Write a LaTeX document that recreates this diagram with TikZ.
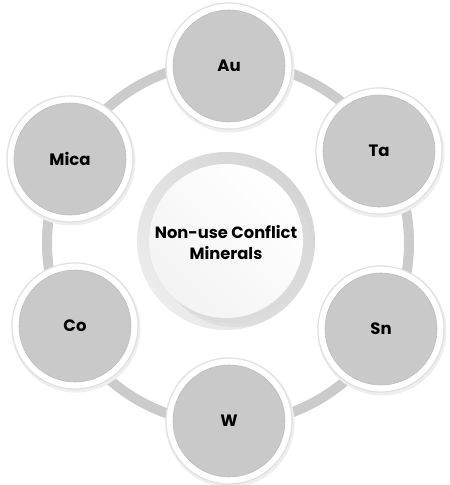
\documentclass[tikz,border=0pt]{standalone}
\usepackage{fontspec}
\setmainfont{Poppins}
\definecolor{ringgray}{HTML}{CBCBCB}
\definecolor{discgray}{HTML}{C9C9C9}
\definecolor{discedge}{HTML}{BDBDBD}
\definecolor{rimgray}{HTML}{E0E0E0}
\definecolor{shadowgray}{HTML}{EEEEEE}
\definecolor{ringdark}{HTML}{D4D4D4}
\definecolor{ringlight}{HTML}{ECECEC}
\definecolor{centershadow}{HTML}{DADADA}
\definecolor{whiteshade}{HTML}{F3F3F3}
\tikzset{
  sat/.style={circle, minimum size=112pt, inner sep=0pt, fill=discgray, draw=discedge, line width=0.6pt,
    font=\bfseries\fontsize{16.5}{19}\selectfont, text=black},
  satrim/.style={fill=white, draw=rimgray, line width=1.2pt},
  satshadow/.style={fill=shadowgray},
  centertext/.style={align=center, font=\bfseries\fontsize{16.3}{21}\selectfont, text=black, inner sep=0pt}
}
\begin{document}
\begin{tikzpicture}[x=1pt,y=-1pt]
\useasboundingbox[fill=white] (0,0) rectangle (450,485);
% big ring
\coordinate (ringc) at (228,243);
\draw[ringgray, line width=10pt] (ringc) circle[radius=181];
% centre circle with long shadow
\coordinate (cc) at (226,241);
\shade[left color=ringdark, right color=ringlight, shading angle=-45] (cc) circle[radius=89];
\begin{scope}
  \clip (cc) circle[radius=89];
  \draw[centershadow, line width=154pt, line cap=round, opacity=0.7] (cc) -- ++(9,9);
  \draw[centershadow, line width=154pt, line cap=round, opacity=0.5] (cc) -- ++(5,5);
\end{scope}
\shade[left color=white, right color=whiteshade, shading angle=-45] (cc) circle[radius=77];
\node[centertext] (center) at (226,243) {Non-use Conflict\\Minerals};
% satellites
\foreach \nm/\px/\py/\lab in {au/229/66/Au, ta/379/151/Ta, sn/381/329/Sn, w/229/421/W, co/75/326/Co, mica/70/159/Mica}{
  \fill[satshadow] (\px+1,\py+2) circle[radius=64.5];
  \draw[satrim] (\px,\py) circle[radius=63];
  \node[sat] (\nm) at (\px,\py) {\lab};
}
\end{tikzpicture}
\end{document}
